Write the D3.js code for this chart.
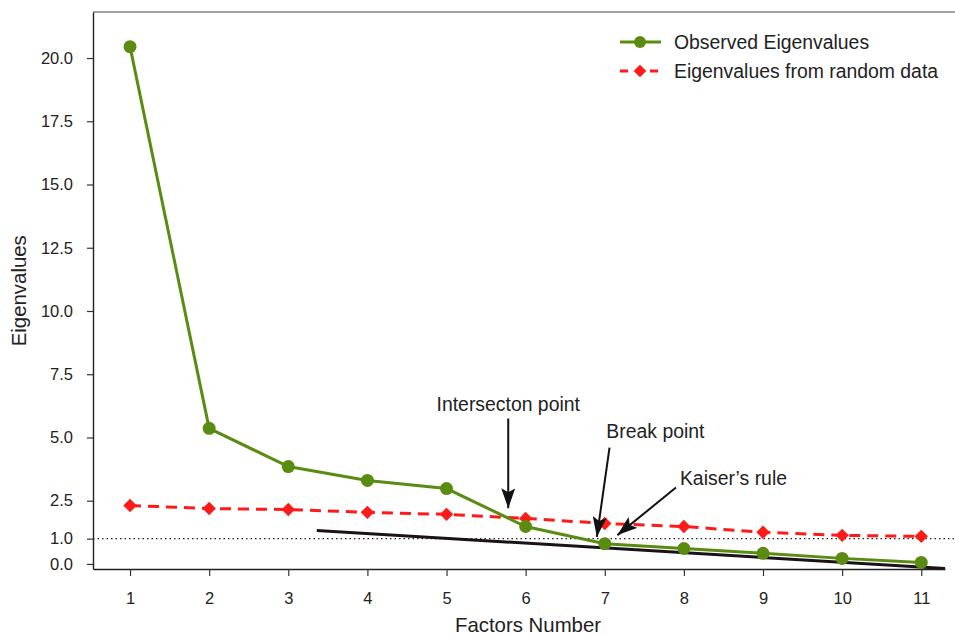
<!DOCTYPE html>
<html>
<head>
<meta charset="utf-8">
<script src="https://cdn.jsdelivr.net/npm/d3@7"></script>
<style>
  body { margin: 0; background: #fff; }
  text { font-family: "Liberation Sans", Arial, sans-serif; fill: #222; }
</style>
</head>
<body>
<svg id="chart"></svg>
<script>
let factors = [1, 2, 3, 4, 5, 6, 7, 8, 9, 10, 11];
let observed = [20.45, 5.36, 3.85, 3.3, 2.98, 1.48, 0.8, 0.61, 0.42, 0.22, 0.06];
let randomData = [2.31, 2.19, 2.15, 2.04, 1.96, 1.8, 1.6, 1.48, 1.25, 1.13, 1.09];
let yTicks = [0, 1, 2.5, 5, 7.5, 10, 12.5, 15, 17.5, 20];
let kaiserLine = [[3.36, 1.32], [11.3, -0.18]];
let notes = [
  {label: "Intersecton point", tx: 5.78, ty: 6.03, anchor: "middle", from: [5.78, 5.75], to: [5.78, 2.2]},
  {label: "Break point", tx: 7.02, ty: 4.96, anchor: "start", from: [7.06, 4.6], to: [6.9, 1.07]},
  {label: "Kaiser\u2019s rule", tx: 7.95, ty: 3.14, anchor: "start", from: [7.9, 3.02], to: [7.16, 1.14]}
];

let W = 955, H = 635;
let margin = {top: 12, right: 10, bottom: 66, left: 93};
let width = W - margin.left - margin.right;
let height = H - margin.top - margin.bottom;

let svg = d3.select('#chart').attr("width", W).attr("height", H);

let defs = svg.append("defs");
defs.append("marker")
    .attr("id", "arrow")
    .attr("viewBox", "0 0 20 14")
    .attr("refX", 20).attr("refY", 7)
    .attr("markerWidth", 20).attr("markerHeight", 14)
    .attr("markerUnits", "userSpaceOnUse")
    .attr("orient", "auto")
  .append("path")
    .attr("d", "M0,0 L20,7 L0,14 L4,7 Z")
    .attr("fill", "#111");

let g = svg.append("g").attr("transform", "translate(" + margin.left + "," + margin.top + ")");

let x = d3.scaleLinear().domain([0.532, 11.3]).range([0, width]);
let y = d3.scaleLinear().domain([-0.2, 21.82]).range([height, 0]);

// frame: top line runs to the right edge
g.append("line")
    .attr("x1", 0).attr("x2", W - margin.left)
    .attr("y1", 0).attr("y2", 0)
    .attr("stroke", "#444").attr("stroke-width", 1.2);

let xAxis = g.append("g")
    .attr("transform", "translate(0," + height + ")")
    .call(d3.axisBottom(x).tickValues(factors).tickFormat(d3.format("d")).tickSize(7).tickSizeOuter(0));
let yAxis = g.append("g")
    .call(d3.axisLeft(y).tickValues(yTicks).tickFormat(d3.format(".1f")).tickSize(6).tickSizeOuter(0).tickPadding(14));

[xAxis, yAxis].forEach(a => {
  a.select(".domain").attr("stroke", "#222").attr("stroke-width", 1.4);
  a.selectAll(".tick line").attr("stroke", "#333").attr("stroke-width", 1.2);
  a.selectAll("text").attr("font-size", 16.5).attr("font-family", "Liberation Sans, Arial, sans-serif").attr("fill", "#222");
});
xAxis.selectAll("text").attr("dy", "1.5em");

// dotted line at eigenvalue 1
g.append("line")
    .attr("x1", 0).attr("x2", W - margin.left)
    .attr("y1", y(1)).attr("y2", y(1))
    .attr("stroke", "#222").attr("stroke-width", 1.3)
    .attr("stroke-dasharray", "1.5,3");

// kaiser / scree line
g.append("path")
    .datum(kaiserLine)
    .attr("d", d3.line().x(d => x(d[0])).y(d => y(d[1])))
    .attr("stroke", "#1b1219").attr("stroke-width", 3).attr("fill", "none");

// random data
let line = d3.line().x((d, i) => x(factors[i])).y(d => y(d));
g.append("path")
    .datum(randomData)
    .attr("d", line)
    .attr("stroke", "#ff1a1a").attr("stroke-width", 3).attr("fill", "none")
    .attr("stroke-dasharray", "11,7");
g.selectAll(".dia")
    .data(randomData)
    .enter()
    .append("path")
    .attr("class", "dia")
    .attr("transform", (d, i) => "translate(" + x(factors[i]) + "," + y(d) + ") rotate(45)")
    .attr("d", d3.symbol().type(d3.symbolSquare).size(90))
    .attr("fill", "#ff1a1a");

// observed
g.append("path")
    .datum(observed)
    .attr("d", line)
    .attr("stroke", "#5a8c12").attr("stroke-width", 3).attr("fill", "none");
g.selectAll(".dot")
    .data(observed)
    .enter()
    .append("circle")
    .attr("class", "dot")
    .attr("cx", (d, i) => x(factors[i]))
    .attr("cy", d => y(d))
    .attr("r", 6.5)
    .attr("fill", "#5a8c12");

// annotations
notes.forEach(n => {
  g.append("line")
      .attr("x1", x(n.from[0])).attr("y1", y(n.from[1]))
      .attr("x2", x(n.to[0])).attr("y2", y(n.to[1]))
      .attr("stroke", "#111").attr("stroke-width", 2)
      .attr("marker-end", "url(#arrow)");
  g.append("text")
      .attr("x", x(n.tx)).attr("y", y(n.ty))
      .attr("text-anchor", n.anchor)
      .attr("font-size", 19.4)
      .text(n.label);
});

// legend
let legend = [
  {label: "Observed Eigenvalues", color: "#5a8c12", dash: null, shape: "circle"},
  {label: "Eigenvalues from random data", color: "#ff1a1a", dash: "9,6", shape: "diamond"}
];
let lg = svg.append("g").attr("transform", "translate(620,42)");
legend.forEach((l, i) => {
  let row = lg.append("g").attr("transform", "translate(0," + i * 29 + ")");
  row.append("line").attr("x1", 0).attr("x2", 41).attr("y1", 0).attr("y2", 0)
      .attr("stroke", l.color).attr("stroke-width", 3)
      .attr("stroke-dasharray", l.dash ? "8,7" : null);
  if (l.shape === "circle") {
    row.append("circle").attr("cx", 20).attr("cy", 0).attr("r", 6).attr("fill", l.color);
  } else {
    row.append("path").attr("transform", "translate(20,0) rotate(45)")
        .attr("d", d3.symbol().type(d3.symbolSquare).size(80)).attr("fill", l.color);
  }
  row.append("text").attr("x", 54).attr("y", 0).attr("dy", "0.35em")
      .attr("font-size", 19.4).text(l.label);
});

// axis titles
svg.append("text")
    .attr("x", margin.left + x(6.03)).attr("y", 632)
    .attr("text-anchor", "middle").attr("font-size", 20.4)
    .text("Factors Number");
svg.append("text")
    .attr("transform", "translate(26," + (margin.top + y(10.8)) + ") rotate(-90)")
    .attr("text-anchor", "middle").attr("font-size", 20.4)
    .text("Eigenvalues");
</script>
</body>
</html>
